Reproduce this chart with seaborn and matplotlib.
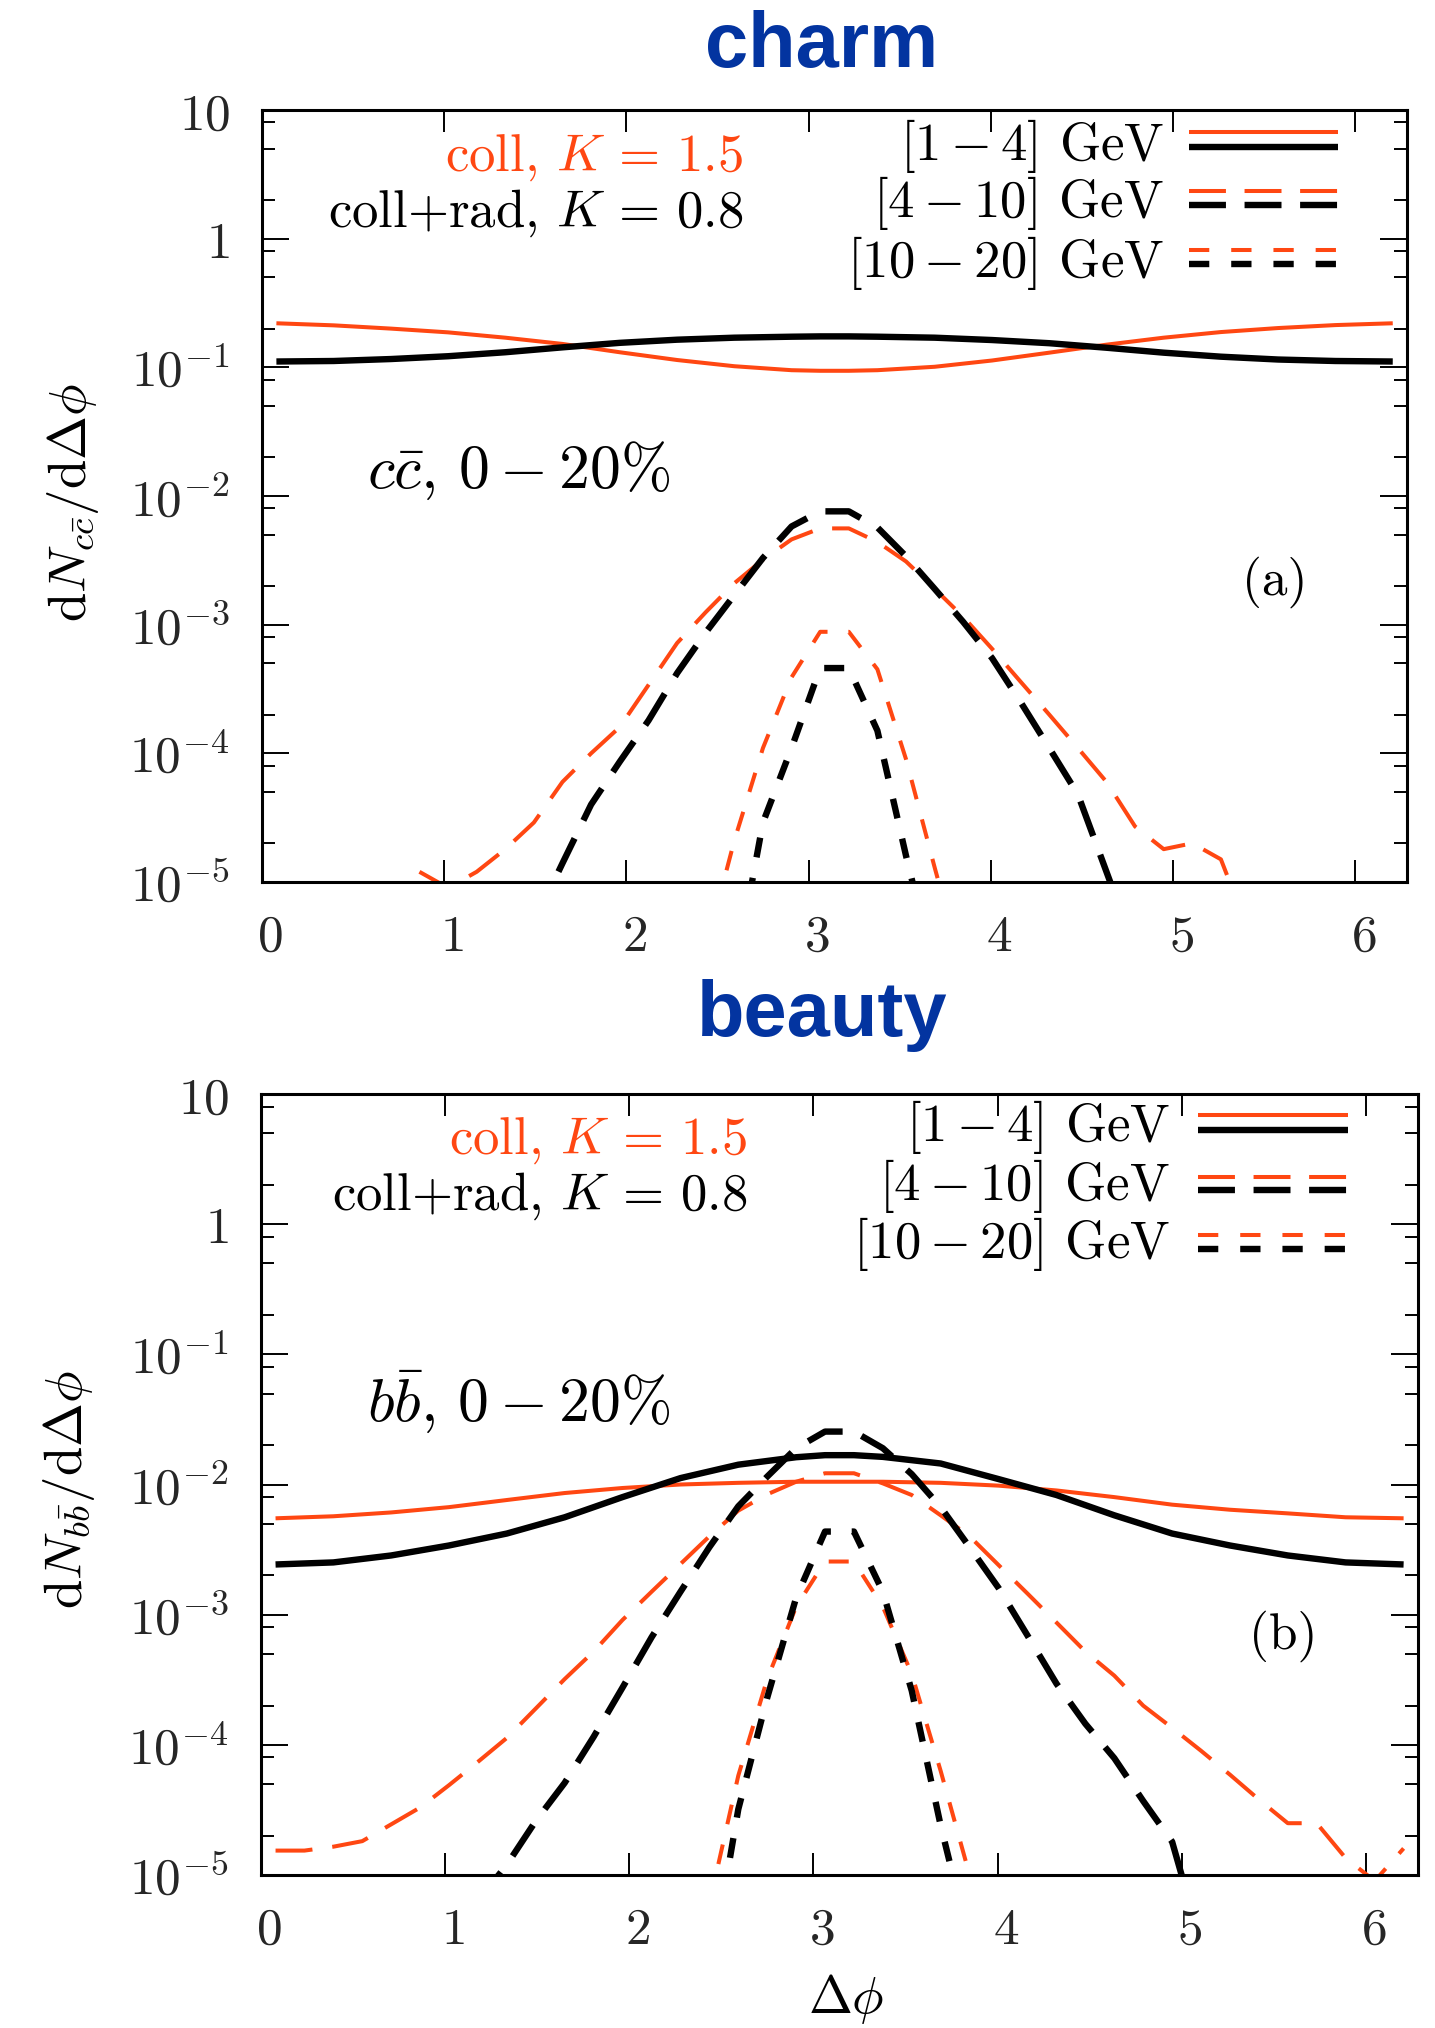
import numpy as np
import matplotlib
matplotlib.use("Agg")
import matplotlib.pyplot as plt
import seaborn as sns
from matplotlib.ticker import FixedLocator, LogLocator, NullFormatter, FuncFormatter
from matplotlib.lines import Line2D
from matplotlib.transforms import ScaledTranslation

# ------------------------------------------------------------------ data
BINS = [0.079, 0.236, 0.393, 0.550, 0.707, 0.864, 1.021, 1.178, 1.335, 1.492,
        1.649, 1.806, 1.963, 2.121, 2.278, 2.435, 2.592, 2.749, 2.906, 3.063,
        3.220, 3.377, 3.534, 3.691, 3.848, 4.006, 4.163, 4.320, 4.477, 4.634,
        4.791, 4.948, 5.105, 5.262, 5.419, 5.576, 5.733, 5.890, 6.048, 6.205]

X_SOLID = [0.079, 0.393, 0.707, 1.021, 1.335, 1.649, 1.963, 2.278, 2.592, 2.906, 3.063,
           3.220, 3.377, 3.691, 4.006, 4.320, 4.634, 4.948, 5.262, 5.576, 5.890, 6.205]

# charm, [1-4] GeV
CHARM_COLL_1_4 = [0.220, 0.212, 0.200, 0.187, 0.170, 0.152, 0.131, 0.114, 0.102, 0.095, 0.094,
                  0.094, 0.095, 0.101, 0.113, 0.130, 0.150, 0.170, 0.188, 0.202, 0.213, 0.220]
CHARM_RAD_1_4 = [0.111, 0.112, 0.116, 0.122, 0.131, 0.143, 0.155, 0.164, 0.170, 0.173, 0.174,
                 0.174, 0.173, 0.170, 0.163, 0.154, 0.142, 0.130, 0.121, 0.115, 0.112, 0.111]
# charm, [4-10] GeV
CHARM_COLL_4_10_X = BINS[5:35]
CHARM_COLL_4_10 = [1.2e-5, 9e-6, 1.2e-5, 1.8e-5, 2.9e-5, 6.0e-5, 1.0e-4, 1.6e-4, 3.4e-4,
                   7.2e-4, 1.25e-3, 2.1e-3, 3.2e-3, 4.6e-3, 5.6e-3, 5.6e-3, 4.4e-3, 3.1e-3,
                   1.9e-3, 1.15e-3, 6.5e-4, 3.6e-4, 2.0e-4, 1.1e-4, 6.0e-5, 2.7e-5, 1.8e-5,
                   2.0e-5, 1.5e-5, 4e-6]
CHARM_RAD_4_10_X = BINS[9:31]
CHARM_RAD_4_10 = [4.8e-6, 1.4e-5, 4.0e-5, 8.6e-5, 1.8e-4, 4.2e-4, 8.7e-4, 1.7e-3, 3.3e-3,
                  5.8e-3, 7.6e-3, 7.6e-3, 5.7e-3, 3.4e-3, 1.9e-3, 1.05e-3, 5.5e-4, 2.5e-4,
                  1.1e-4, 4.8e-5, 1.2e-5, 3e-6]
# charm, [10-20] GeV
CHARM_COLL_10_20_X = BINS[15:25]
CHARM_COLL_10_20 = [3e-6, 2.1e-5, 1.1e-4, 3.9e-4, 8.8e-4, 8.8e-4, 4.5e-4, 9.0e-5, 1.3e-5, 2e-6]
CHARM_RAD_10_20_X = BINS[16:24]
CHARM_RAD_10_20 = [1.8e-6, 2.9e-5, 1.1e-4, 4.6e-4, 4.6e-4, 1.5e-4, 1.6e-5, 2e-6]

# beauty, [1-4] GeV
BEAUTY_COLL_1_4 = [5.5e-3, 5.7e-3, 6.1e-3, 6.7e-3, 7.6e-3, 8.6e-3, 9.4e-3, 1.0e-2, 1.03e-2,
                   1.05e-2, 1.05e-2, 1.05e-2, 1.05e-2, 1.03e-2, 9.8e-3, 9.0e-3, 8.0e-3,
                   7.0e-3, 6.4e-3, 6.0e-3, 5.6e-3, 5.5e-3]
BEAUTY_RAD_1_4 = [2.43e-3, 2.52e-3, 2.85e-3, 3.4e-3, 4.2e-3, 5.6e-3, 8.0e-3, 1.12e-2, 1.42e-2,
                  1.62e-2, 1.68e-2, 1.68e-2, 1.63e-2, 1.45e-2, 1.1e-2, 8.3e-3, 5.8e-3,
                  4.2e-3, 3.4e-3, 2.85e-3, 2.52e-3, 2.43e-3]
# beauty, [4-10] GeV
BEAUTY_COLL_4_10_X = BINS
BEAUTY_COLL_4_10 = [1.54e-5, 1.54e-5, 1.65e-5, 1.82e-5, 2.45e-5, 3.3e-5, 4.9e-5, 7.4e-5, 1.13e-4,
                    1.9e-4, 3.2e-4, 5.2e-4, 9.1e-4, 1.5e-3, 2.45e-3, 4.0e-3, 6.3e-3, 8.4e-3,
                    1.05e-2, 1.22e-2, 1.22e-2, 1.02e-2, 8.3e-3, 5.8e-3, 4.0e-3, 2.4e-3, 1.45e-3,
                    8.7e-4, 5.2e-4, 3.4e-4, 2.0e-4, 1.35e-4, 9.0e-5, 5.9e-5, 3.8e-5, 2.5e-5,
                    2.5e-5, 1.35e-5, 9e-6, 1.6e-5]
BEAUTY_RAD_4_10_X = BINS[7:33]
BEAUTY_RAD_4_10 = [6.3e-6, 1.2e-5, 2.6e-5, 5.1e-5, 1.15e-4, 2.75e-4, 6.7e-4, 1.5e-3, 3.3e-3,
                   6.8e-3, 1.15e-2, 1.9e-2, 2.55e-2, 2.55e-2, 1.9e-2, 1.2e-2, 6.7e-3, 3.3e-3,
                   1.6e-3, 6.9e-4, 2.95e-4, 1.45e-4, 7.9e-5, 3.7e-5, 1.8e-5, 3e-6]
# beauty, [10-20] GeV
BEAUTY_COLL_10_20_X = BINS[15:26]
BEAUTY_COLL_10_20 = [6e-6, 5.8e-5, 3.2e-4, 1.15e-3, 2.56e-3, 2.56e-3, 1.15e-3, 3.5e-4, 6.3e-5,
                     1.0e-5, 1e-6]
BEAUTY_RAD_10_20_X = BINS[15:25]
BEAUTY_RAD_10_20 = [1.6e-6, 3.2e-5, 2.3e-4, 1.35e-3, 4.35e-3, 4.35e-3, 1.5e-3, 2.6e-4, 2.4e-5, 3e-6]

Y_TICKS = [1e-5, 1e-4, 1e-3, 1e-2, 1e-1, 1, 10]
X_TICKS = [0, 1, 2, 3, 4, 5, 6]
LEGEND_LABELS = [r"$[1 - 4]$ GeV", r"$[4 - 10]$ GeV", r"$[10 - 20]$ GeV"]
TXT_COLL = r"coll, $K\,=\,1.5$"
TXT_RAD = r"coll+rad, $K\,=\,0.8$"

# ------------------------------------------------------------------ style
ORANGE = "#FF4712"
BLACK = "#000000"
BLUE = "#0334A0"
LW_O = 2.9
LW_K = 4.6
DASH_LONG = (26.6, 14.4)
DASH_SHORT = (14.4, 15.0)
LEG_LONG = (26.6, 13.4)
LEG_SHORT = (14.6, 15.8)
CM = ["cmr10", "DejaVu Serif"]

sns.set_style("white")
plt.rcParams.update({
    "mathtext.fontset": "cm",
    "lines.scale_dashes": False,
    "axes.linewidth": 2.2,
    "axes.edgecolor": "black",
    "text.color": "black",
    "axes.formatter.use_mathtext": True,
})
plt.rcParams["font.family"] = ["DejaVu Serif"]

W, H = 1435, 2028
fig = plt.figure(figsize=(W / 100, H / 100), dpi=100)


def fx(px):
    return px / W


def fy(py):
    return 1 - py / H


def ytick_fmt(v, pos):
    if v == 10:
        return r"$10$"
    if v == 1:
        return r"$1$"
    return r"$10^{%d}$" % int(round(np.log10(v)))


def make_axes(l, r, t, b):
    ax = fig.add_axes([fx(l), fy(b), fx(r) - fx(l), (b - t) / H])
    ax.set_yscale("log")
    return ax


def style_axes(ax):
    ax.set_ylim(1e-5, 10)
    ax.set_xlim(0, 2 * np.pi)
    ax.yaxis.set_major_locator(FixedLocator(Y_TICKS))
    ax.yaxis.set_major_formatter(FuncFormatter(ytick_fmt))
    ax.yaxis.set_minor_locator(LogLocator(base=10, subs=[2, 5, 8], numticks=30))
    ax.yaxis.set_minor_formatter(NullFormatter())
    ax.set_xticks(X_TICKS)
    ax.set_xticklabels([r"$%d$" % t for t in X_TICKS])
    ax.xaxis.set_minor_locator(FixedLocator([]))
    ax.tick_params(axis="both", which="both", direction="in", top=True, right=True,
                   bottom=True, left=True, width=1.4, color="black")
    ax.tick_params(axis="x", which="major", length=16, pad=22, labelsize=37)
    ax.tick_params(axis="y", which="major", length=19.4, pad=23, labelsize=37)
    ax.tick_params(axis="y", which="minor", length=9.4)
    for s in ax.spines.values():
        s.set_visible(True)
        s.set_color("black")
        s.set_linewidth(2.2)
    ax.set_xlabel("")
    ax.set_ylabel("")
    off = ScaledTranslation(8 / 100, 0, fig.dpi_scale_trans)
    for lab in ax.get_xticklabels():
        lab.set_transform(lab.get_transform() + off)


def draw(ax, xs, ys, color, lw, dash=None):
    sns.lineplot(x=xs, y=ys, ax=ax, color=color, linewidth=lw, estimator=None,
                 sort=False, legend=False)
    line = ax.lines[-1]
    line.set_solid_joinstyle("round")
    line.set_solid_capstyle("butt")
    if dash is not None:
        line.set_dashes(dash)
        line.set_dash_capstyle("butt")
        line.set_dash_joinstyle("round")


def legend_lines(x0, x1, ys_orange, ys_black):
    pats = [None, LEG_LONG, LEG_SHORT]
    for yo, yk, p in zip(ys_orange, ys_black, pats):
        for yy, c, lw in ((yo, ORANGE, LW_O), (yk, BLACK, LW_K)):
            ln = Line2D([fx(x0), fx(x1)], [fy(yy), fy(yy)], transform=fig.transFigure,
                        color=c, lw=lw, solid_capstyle="butt", dash_capstyle="butt")
            if p is not None:
                ln.set_dashes(p)
            fig.add_artist(ln)


def panel_texts(title, title_y, txt_right, txt_base, leg_right, leg_bases, leg_x0, leg_x1,
                leg_o, leg_k, sys_txt, sys_base, tag, tag_xy, ylab, ylab_x, ylab_y):
    fig.text(fx(822), fy(title_y), title, ha="center", va="baseline", fontsize=56,
             fontweight="bold", color=BLUE, family=["Liberation Sans", "DejaVu Sans"])
    fig.text(fx(txt_right), fy(txt_base[0]), TXT_COLL, ha="right", va="baseline",
             fontsize=38, color=ORANGE, family=CM)
    fig.text(fx(txt_right), fy(txt_base[1]), TXT_RAD, ha="right", va="baseline",
             fontsize=38, color=BLACK, family=CM)
    for lab, yb in zip(LEGEND_LABELS, leg_bases):
        fig.text(fx(leg_right), fy(yb), lab, ha="right", va="baseline", fontsize=38, family=CM)
    legend_lines(leg_x0, leg_x1, leg_o, leg_k)
    fig.text(fx(367), fy(sys_base), sys_txt, ha="left", va="baseline", fontsize=44.5, family=CM)
    fig.text(fx(tag_xy[0]), fy(tag_xy[1]), tag, ha="center", va="center", fontsize=37,
             family=CM)
    fig.text(fx(ylab_x), fy(ylab_y), ylab, rotation=90, ha="center", va="center",
             fontsize=38)


# ------------------------------------------------------------------ panel (a) charm
ax1 = make_axes(262, 1407, 110, 882)
draw(ax1, X_SOLID, CHARM_COLL_1_4, ORANGE, LW_O)
draw(ax1, X_SOLID, CHARM_RAD_1_4, BLACK, LW_K)
draw(ax1, CHARM_COLL_4_10_X, CHARM_COLL_4_10, ORANGE, LW_O, DASH_LONG)
draw(ax1, CHARM_RAD_4_10_X, CHARM_RAD_4_10, BLACK, LW_K, DASH_LONG)
draw(ax1, CHARM_COLL_10_20_X, CHARM_COLL_10_20, ORANGE, LW_O, DASH_SHORT)
draw(ax1, CHARM_RAD_10_20_X, CHARM_RAD_10_20, BLACK, LW_K, DASH_SHORT)
style_axes(ax1)
panel_texts("charm", 67, 743, (171, 227), 1164, (160, 217, 277), 1189, 1338,
            (132, 191, 250), (147, 205, 264), r"$c\bar{c}$, $0 - 20\%$", 488,
            "(a)", (1275, 582), r"$\mathrm{d}N_{c\bar{c}}/\mathrm{d}\Delta\phi$", 73, 502)

# ------------------------------------------------------------------ panel (b) beauty
ax2 = make_axes(261, 1418, 1094, 1875)
draw(ax2, X_SOLID, BEAUTY_COLL_1_4, ORANGE, LW_O)
draw(ax2, X_SOLID, BEAUTY_RAD_1_4, BLACK, LW_K)
draw(ax2, BEAUTY_COLL_4_10_X, BEAUTY_COLL_4_10, ORANGE, LW_O, DASH_LONG)
draw(ax2, BEAUTY_RAD_4_10_X, BEAUTY_RAD_4_10, BLACK, LW_K, DASH_LONG)
draw(ax2, BEAUTY_COLL_10_20_X, BEAUTY_COLL_10_20, ORANGE, LW_O, DASH_SHORT)
draw(ax2, BEAUTY_RAD_10_20_X, BEAUTY_RAD_10_20, BLACK, LW_K, DASH_SHORT)
style_axes(ax2)
panel_texts("beauty", 1036, 747, (1154, 1210), 1170, (1141, 1200, 1258), 1198, 1348,
            (1115, 1177, 1235), (1130, 1190, 1249), r"$b\bar{b}$, $0 - 20\%$", 1422,
            "(b)", (1283, 1636), r"$\mathrm{d}N_{b\bar{b}}/\mathrm{d}\Delta\phi$", 69, 1490)
fig.text(fx(846), fy(2013), r"$\Delta\phi$", ha="center", va="baseline", fontsize=38)

fig.savefig("out.png", dpi=100, facecolor="white")
